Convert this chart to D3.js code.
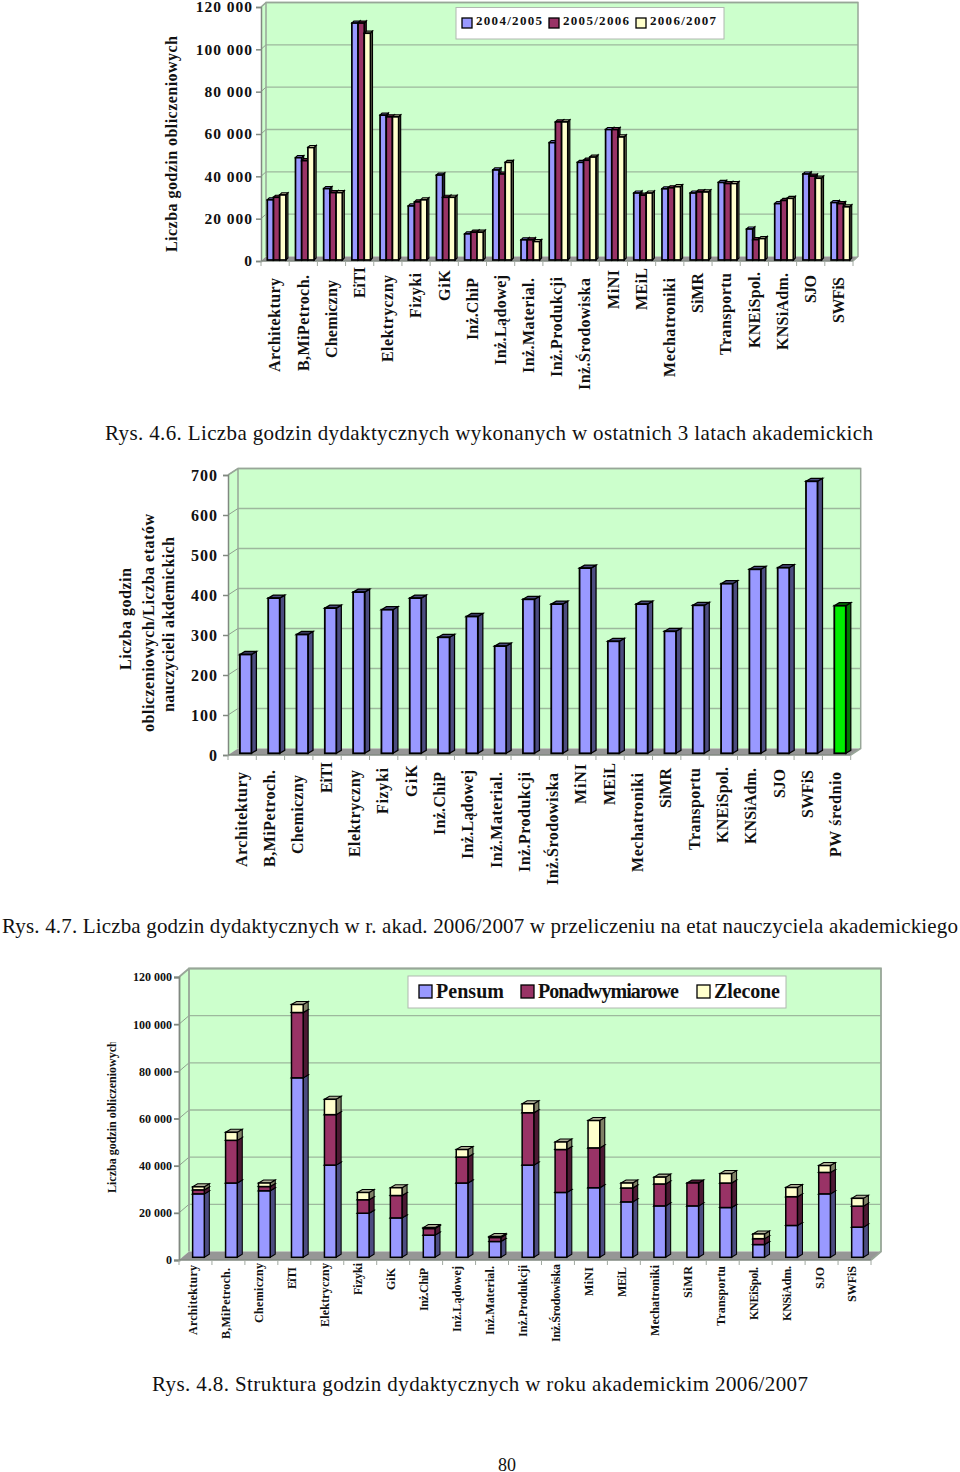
<!DOCTYPE html>
<html><head><meta charset="utf-8">
<style>html,body{margin:0;padding:0;background:#fff}svg{display:block}text{font-family:"Liberation Serif",serif}</style>
<script src="https://cdn.jsdelivr.net/npm/d3@7"></script></head><body>
<script>
const facultiesA = ["Architektury","B,MiPetroch.","Chemiczny","EiTI","Elektryczny","Fizyki","GiK","Inż.ChiP","Inż.Lądowej","Inż.Material.","Inż.Produkcji","Inż.Środowiska","MiNI","MEiL","Mechatroniki","SiMR","Transportu","KNEiSpol.","KNSiAdm.","SJO","SWFiS"];
const facultiesB = facultiesA.concat(["PW średnio"]);
const years = ["2004/2005","2005/2006","2006/2007"];
const y2004 = [28300,48200,33600,111800,68300,25400,40000,12200,42400,9400,55300,46000,61500,31500,33500,31500,36500,14500,26500,40500,27000];
const y2005 = [29500,46800,31700,111800,67500,27300,29500,13000,40500,9400,65100,47000,61500,30500,34000,32000,36000,9500,28000,39500,26500];
const y2006 = [30600,53000,31700,107000,67500,28300,29500,13000,46000,8600,65100,48500,58000,31500,34500,32000,36000,10000,29000,38500,25000];
const ratio = [247,388,297,363,403,359,388,290,342,268,385,373,463,280,373,305,370,424,460,464,680,369];
const stackNames = ["Pensum","Ponadwymiarowe","Zlecone"];
const pensum = [26900,31500,28200,76100,39100,18700,16700,9400,31500,6700,39100,27500,29500,23500,21800,21800,21100,5400,13500,26900,12800];
const ponad = [1700,18100,1800,27700,21400,5700,9500,2800,11000,1700,22200,18200,16900,5900,9300,9700,10400,2500,12200,9100,8900];
const zlecone = [1300,3400,1500,3400,6500,3100,3300,400,3200,400,3800,3200,11600,2100,2900,0,4000,2000,3900,2900,3300];
const ticks1 = [0,20000,40000,60000,80000,100000,120000];
const ticks2 = [0,100,200,300,400,500,600,700];
const captions = ["Rys. 4.6. Liczba godzin dydaktycznych wykonanych w ostatnich 3 latach akademickich","Rys. 4.7. Liczba godzin dydaktycznych w r. akad. 2006/2007 w przeliczeniu na etat nauczyciela akademickiego","Rys. 4.8. Struktura godzin dydaktycznych w roku akademickim 2006/2007"];
const pageNumber = "80";

// layout only: where each rotated category label starts and ends on the page (the source placed them unevenly)
const labelSpan1 = [[278,372],[275,371],[280,358],[267,298],[275,362],[273,318],[270,301],[278,340],[275,365],[278,373],[277,377],[278,390],[270,309],[268,310],[278,377],[273,313],[273,355],[272,348],[273,350],[275,303],[277,323]];
const labelSpan2 = [[772,867],[770,867],[775,854],[762,793],[770,857],[768,814],[765,797],[772,835],[770,859],[772,868],[772,872],[773,885],[764,804],[763,805],[773,872],[768,808],[768,850],[767,843],[768,844],[769,798],[770,818],[772,857]];
const labelSpan3 = [[1265,1335],[1268,1339],[1263,1323],[1267,1289],[1263,1327],[1263,1295],[1268,1290],[1268,1311],[1266,1332],[1266,1335],[1265,1337],[1264,1342],[1267,1296],[1267,1297],[1265,1336],[1266,1298],[1266,1326],[1267,1320],[1266,1321],[1267,1289],[1266,1302]];

const BLUE="#9999ff",MAROON="#993366",CREAM="#ffffcc",GREEN="#00ee00";
const fmt = v => d3.format(",")(v).replace(/,/g," ");
const svg = d3.select("body").append("svg").attr("width",960).attr("height",1472);

function frame(c){
  const g = svg.append("g");
  const x = d3.scaleBand().domain(c.cats).range([c.x0,c.x1]);
  const y = d3.scaleLinear().domain(c.dom).range([c.y0,c.yt]);
  const bx0=c.x0+c.dx, bx1=c.x1+c.dx, by0=c.y0-c.dy, byt=c.yt-c.dy;
  const poly=(pts,f)=>g.append("polygon").attr("points",pts.map(p=>p.join(",")).join(" ")).attr("fill",f);
  poly([[c.x0,c.y0],[bx0,by0],[bx0,byt],[c.x0,c.yt]],"#ccffcc");
  poly([[bx0,by0],[bx1,by0],[bx1,byt],[bx0,byt]],"#ccffcc");
  poly([[c.x0,c.y0],[c.x1,c.y0],[bx1,by0],[bx0,by0]],"#969696");
  c.ticks.forEach(t=>{ if(t===0) return;
    g.append("line").attr("x1",bx0).attr("x2",bx1).attr("y1",y(t)-c.dy).attr("y2",y(t)-c.dy).attr("stroke","#9db89d").attr("stroke-width",1.3);
    g.append("line").attr("x1",c.x0).attr("x2",bx0).attr("y1",y(t)).attr("y2",y(t)-c.dy).attr("stroke","#8f9f8f").attr("stroke-width",1);
  });
  g.append("path").attr("fill","none").attr("stroke","#98a698").attr("stroke-width",c.wall)
    .attr("d",`M${bx0},${by0}V${byt}H${bx1}V${by0}L${c.x1},${c.y0}M${bx0},${byt}L${c.x0},${c.yt}`);
  const ay = g.append("g").attr("transform",`translate(${c.x0},0)`)
    .call(d3.axisLeft(y).tickValues(c.ticks).tickFormat(fmt).tickSize(5).tickPadding(c.pad));
  ay.selectAll("path,line").attr("stroke","#808880").attr("stroke-width",c.wall);
  ay.selectAll("text").attr("font-family","Liberation Serif").attr("font-weight","bold").attr("font-size",c.tickFont).attr("letter-spacing",c.tickLS).attr("fill","#111");
  g.append("line").attr("x1",c.x0).attr("x2",c.x1).attr("y1",c.y0).attr("y2",c.y0).attr("stroke","#808880").attr("stroke-width",1.3);
  g.selectAll(".ct").data(d3.range(c.cats.length+1)).join("line")
    .attr("x1",i=>c.x0+i*x.step()).attr("x2",i=>c.x0+i*x.step()).attr("y1",c.y0).attr("y2",c.y0+5)
    .attr("stroke","#a0a8a0").attr("stroke-width",1);
  g.selectAll(".cl").data(c.cats).join("text")
    .attr("transform",(d,i)=>`translate(${x(d)+x.bandwidth()/2+c.labDx},${c.spans[i][1]}) rotate(-90)`)
    .attr("dy","0.33em").attr("textLength",(d,i)=>c.spans[i][1]-c.spans[i][0]).attr("lengthAdjust","spacing")
    .attr("font-weight","bold").attr("font-size",c.catFont).attr("fill","#111").text(d=>d);
  return {g,x,y};
}
function bar3D(g,x,w,yTop,yBot,dx,dy,fill,side,top,sw){
  g.append("polygon").attr("points",`${x+w},${yBot} ${x+w+dx},${yBot-dy} ${x+w+dx},${yTop-dy} ${x+w},${yTop}`).attr("fill",side).attr("stroke","#000").attr("stroke-width",sw*0.7);
  g.append("polygon").attr("points",`${x},${yTop} ${x+dx},${yTop-dy} ${x+w+dx},${yTop-dy} ${x+w},${yTop}`).attr("fill",top).attr("stroke","#000").attr("stroke-width",sw*0.7);
  g.append("rect").attr("x",x).attr("y",yTop).attr("width",w).attr("height",yBot-yTop).attr("fill",fill).attr("stroke","#000").attr("stroke-width",sw);
}
function legend(box,items){
  const g=svg.append("g");
  g.append("rect").attr("x",box.x).attr("y",box.y).attr("width",box.w).attr("height",box.h).attr("fill","#fff").attr("stroke","#b0b8b0").attr("stroke-width",1);
  items.forEach(it=>{
    g.append("rect").attr("x",it.sx).attr("y",box.sy).attr("width",box.s).attr("height",box.s).attr("fill",it.c).attr("stroke","#000").attr("stroke-width",1.3);
    g.append("text").attr("x",it.tx).attr("y",box.ty).attr("font-weight","bold").attr("font-size",box.font).attr("fill","#111").attr("textLength",it.len).attr("lengthAdjust","spacing").text(it.t);
  });
}
function vtitle(x,top,bottom,size,t){
  svg.append("text").attr("transform",`translate(${x},${bottom}) rotate(-90)`).attr("textLength",bottom-top).attr("lengthAdjust","spacing").attr("font-weight","bold").attr("font-size",size).attr("fill","#111").text(t);
}
function caption(t,x,len,base,size){
  svg.append("text").attr("x",x).attr("y",base).attr("font-size",size).attr("fill","#111").attr("textLength",len).attr("lengthAdjust","spacing").text(t);
}

// Chart 1
{
  const c={cats:facultiesA,spans:labelSpan1,dom:[0,120000],ticks:ticks1,x0:261,x1:853,y0:261,yt:7,dx:5,dy:4.5,pad:3,tickFont:15.5,tickLS:1,catFont:16,labDx:0,wall:1.5};
  const {g,x,y}=frame(c);
  const w=6.2, series=[[y2004,BLUE,"#4c4c80"],[y2005,MAROON,"#4c1933"],[y2006,CREAM,"#808066"]];
  c.cats.forEach((d,i)=>{
    series.forEach((s,j)=>{
      bar3D(g,x(d)+x.bandwidth()/2+1.5-w*1.5+j*w,w,y(s[0][i])-1.3,260,2,2,s[1],s[2],s[1],1.7);
    });
  });
  legend({x:456,y:7.5,w:268,h:31.5,sy:18,s:10,ty:24.5,font:13},[
    {sx:462,c:BLUE,tx:476,t:years[0],len:66},{sx:549,c:MAROON,tx:563,t:years[1],len:66},{sx:636,c:CREAM,tx:650,t:years[2],len:66}]);
  vtitle(177,36,252,16,"Liczba godzin obliczeniowych");
}
// Chart 2
{
  const c={cats:facultiesB,spans:labelSpan2,dom:[0,700],ticks:ticks2,x0:228,x1:850.7,y0:755,yt:475,dx:10,dy:6.5,pad:5,tickFont:16,tickLS:1,catFont:16,labDx:-0.6,wall:1.5};
  const {g,x,y}=frame(c);
  c.cats.forEach((d,i)=>{
    const w=11.5,X=x(d)+x.bandwidth()/2+3.5-w/2,green=i===c.cats.length-1;
    bar3D(g,X,w,y(ratio[i])-1.7,753.3,5,3,green?GREEN:BLUE,green?"#007700":"#4c4c80",green?"#007700":"#4c4c80",1.8);
  });
  vtitle(131,568,670,16,"Liczba godzin");
  vtitle(154,514,732,16,"obliczeniowych/Liczba etatów");
  vtitle(174,537,712,16,"nauczycieli akdemickich");
}
// Chart 3
{
  const c={cats:facultiesA,spans:labelSpan3,dom:[0,120000],ticks:ticks1,x0:179,x1:871,y0:1260,yt:977,dx:10,dy:8.5,pad:2,tickFont:12,tickLS:0,catFont:12,labDx:-2,wall:1.8};
  const {g,x,y}=frame(c);
  const w=11.7;
  c.cats.forEach((d,i)=>{
    const X=x(d)+x.bandwidth()/2+3-w/2;
    const v1=pensum[i],v2=v1+ponad[i],v3=v2+zlecone[i], off=2.7;
    bar3D(g,X,w,y(v1)-off,1257.3,5,3,BLUE,"#4c4c80","#4c4c80",1.5);
    bar3D(g,X,w,y(v2)-off,y(v1)-off,5,3,MAROON,"#4c1933","#4c1933",1.5);
    if(zlecone[i]>0) bar3D(g,X,w,y(v3)-off,y(v2)-off,5,3,CREAM,"#808066","#b0b098",1.5);
  });
  legend({x:408,y:976,w:378,h:32,sy:985,s:13,ty:998,font:20},[
    {sx:419,c:BLUE,tx:436,t:stackNames[0],len:68},{sx:521,c:MAROON,tx:538,t:stackNames[1],len:141},{sx:697,c:CREAM,tx:714,t:stackNames[2],len:66}]);
  svg.append("clipPath").attr("id","c3").append("rect").attr("x",90).attr("y",1042.5).attr("width",40).attr("height",200);
  svg.append("g").attr("clip-path","url(#c3)").append("text").attr("transform","translate(116,1193) rotate(-90)").attr("font-weight","bold").attr("font-size",12).attr("fill","#111").text("Liczba godzin obliczeniowych");
}
caption(captions[0],105,768,440,21);
caption(captions[1],2,956,933,21);
caption(captions[2],152,656,1391,21);
svg.append("text").attr("x",507).attr("y",1470.5).attr("text-anchor","middle").attr("font-size",18).attr("fill","#111").text(pageNumber);
</script></body></html>
